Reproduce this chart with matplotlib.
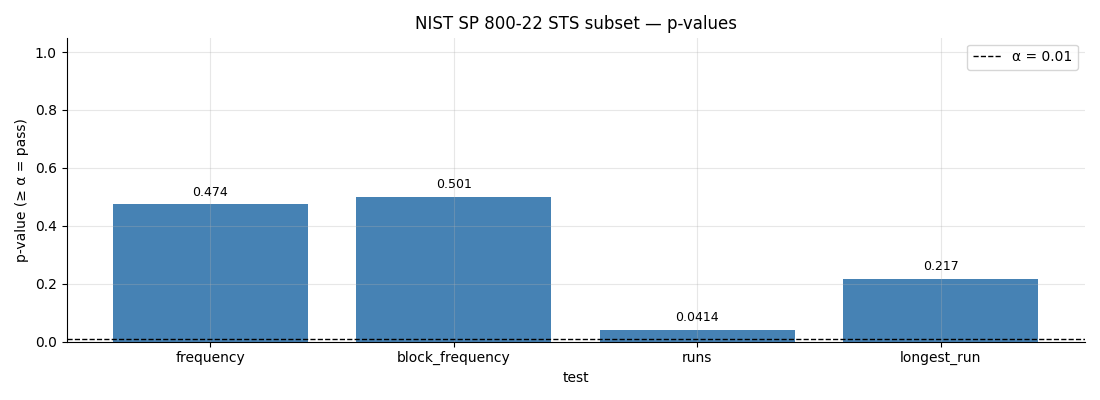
import matplotlib
matplotlib.use("Agg")
import matplotlib.pyplot as plt

tests = ["frequency", "block_frequency", "runs", "longest_run"]
p_values = [0.474, 0.501, 0.0414, 0.217]
alpha = 0.01

fig, ax = plt.subplots(figsize=(11, 4), dpi=100)
bars = ax.bar(tests, p_values, color="steelblue", width=0.8)
ax.axhline(alpha, color="black", linestyle="--", linewidth=1, label="α = {}".format(alpha))

for b, v in zip(bars, p_values):
    ax.annotate("{:.3g}".format(v), (b.get_x() + b.get_width() / 2, v),
                xytext=(0, 4), textcoords="offset points",
                ha="center", va="bottom", fontsize=9)

ax.set_ylim(0, 1.05)
ax.set_xlabel("test")
ax.set_ylabel("p-value (≥ α = pass)")
ax.set_title("NIST SP 800-22 STS subset — p-values")
ax.grid(True, alpha=0.3)
ax.spines["top"].set_visible(False)
ax.spines["right"].set_visible(False)
ax.legend(loc="upper right")

fig.subplots_adjust(left=0.0605, right=0.986, top=0.906, bottom=0.146)
fig.savefig("out.png")
